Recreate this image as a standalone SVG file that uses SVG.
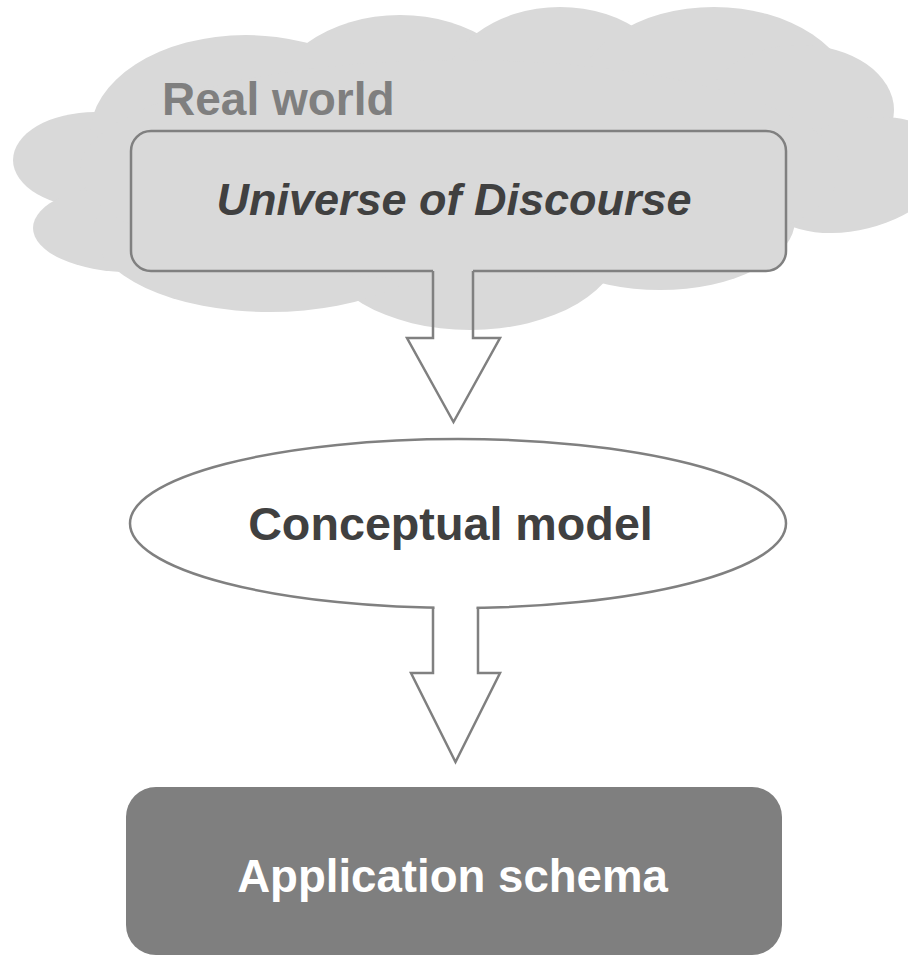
<svg xmlns="http://www.w3.org/2000/svg" width="908" height="956" viewBox="0 0 908 956">
  <style>
    .cloud { fill: #d9d9d9; stroke: none; }
    .outline { fill: none; stroke: #808080; stroke-width: 2.5; stroke-linejoin: miter; }
    .lbl { font-family: "Liberation Sans", Arial, sans-serif; font-weight: bold; }
  </style>
  <rect width="908" height="956" fill="#ffffff"/>

  <g id="real-world">
    <g class="cloud">
      <ellipse cx="95" cy="160" rx="82" ry="48"/>
      <ellipse cx="130" cy="228" rx="97" ry="44"/>
      <ellipse cx="246" cy="135" rx="156" ry="100"/>
      <ellipse cx="400" cy="110" rx="131" ry="95"/>
      <ellipse cx="560" cy="100" rx="120" ry="93"/>
      <ellipse cx="714" cy="100" rx="139" ry="93"/>
      <ellipse cx="800" cy="110" rx="94" ry="65"/>
      <ellipse cx="855" cy="175" rx="95" ry="55" transform="rotate(-14 855 175)"/>
      <ellipse cx="660" cy="220" rx="135" ry="70"/>
      <ellipse cx="470" cy="240" rx="152" ry="90"/>
      <ellipse cx="270" cy="230" rx="176" ry="82"/>
      <ellipse cx="460" cy="170" rx="380" ry="110"/>
    </g>
    <text class="lbl" x="162" y="115" font-size="46" fill="#7f7f7f">Real world</text>
  </g>

  <g id="universe-of-discourse">
    <rect x="131" y="131" width="655" height="140" rx="20" ry="20" fill="#d9d9d9"/>
    <path class="outline" d="M473,271 H766 A20,20 0 0 0 786,251 V151 A20,20 0 0 0 766,131 H151 A20,20 0 0 0 131,151 V251 A20,20 0 0 0 151,271 H433"/>
    <text class="lbl" x="454" y="215" font-size="45" font-style="italic" fill="#404040" text-anchor="middle">Universe of Discourse</text>
  </g>

  <g id="conceptual-model">
    <ellipse cx="458" cy="523.5" rx="328" ry="84.5" fill="#ffffff" stroke="#808080" stroke-width="2.5"/>
    <rect x="434.5" y="602" width="42" height="10" fill="#ffffff"/>
    <text class="lbl" x="450.5" y="540" font-size="46.7" fill="#404040" text-anchor="middle">Conceptual model</text>
  </g>

  <g id="application-schema">
    <rect x="126" y="787" width="656" height="168" rx="30" ry="30" fill="#7f7f7f"/>
    <text class="lbl" x="452.5" y="892" font-size="45.6" fill="#ffffff" text-anchor="middle">Application schema</text>
  </g>

  <g id="connectors">
    <path class="outline" d="M433,271 V338 H407 L453.5,422 L500,338 H473 V271"/>
    <path class="outline" d="M433,607.5 V673 H411 L455.5,762 L500,673 H478 V607.5"/>
  </g>
</svg>
